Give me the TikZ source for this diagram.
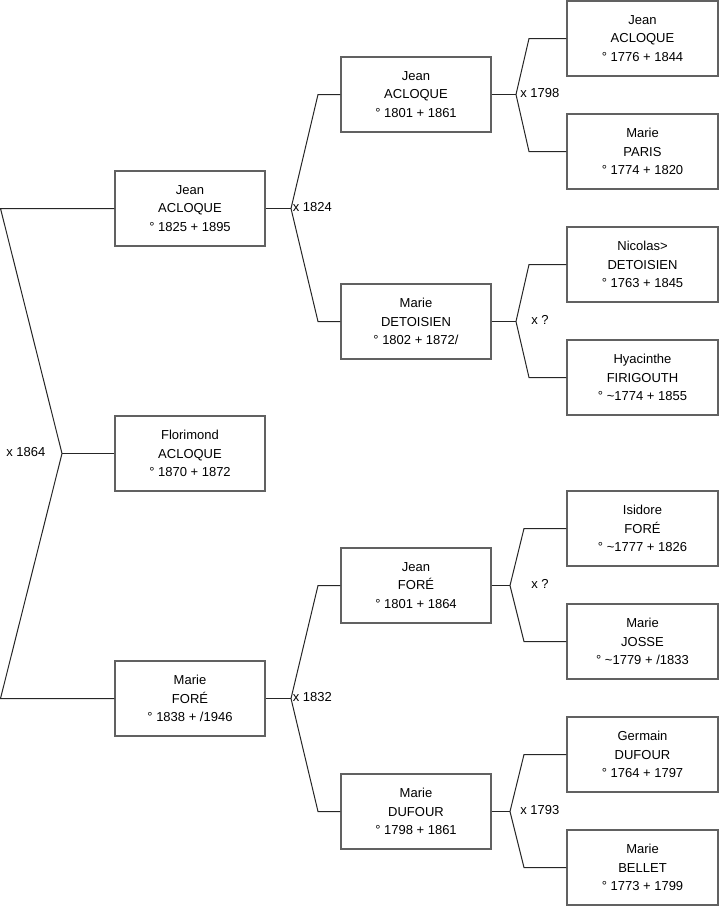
\documentclass[tikz,border=0pt]{standalone}
\usepackage{fontspec}
\setmainfont{Liberation Sans}
\begin{document}
\begin{tikzpicture}[x=0.75pt,y=-0.75pt,
  person/.style={draw=black!62,line width=0.8pt,fill=white,minimum width=112.5pt,minimum height=56.25pt,inner sep=0pt,align=center,font=\fontsize{9.75}{13.9}\selectfont},
  person3/.style={person,minimum width=113.25pt},
  conn/.style={draw=black!85,line width=0.75pt},
  lbl/.style={anchor=west,inner sep=0pt,font=\fontsize{9.75}{12}\selectfont}]
\useasboundingbox (0,0) rectangle (719,908);
% level 1
\node[person] (a1) at (190,208.5) {Jean\\ACLOQUE\\° 1825 + 1895};
\node[person] (a2) at (190,453.5) {Florimond\\ACLOQUE\\° 1870 + 1872};
\node[person] (a3) at (190,698.5) {Marie\\FORÉ\\° 1838 + /1946};
% level 2
\node[person] (b1) at (416,94.5) {Jean\\ACLOQUE\\° 1801 + 1861};
\node[person] (b2) at (416,321.5) {Marie\\DETOISIEN\\° 1802 + 1872/};
\node[person] (b3) at (416,585.5) {Jean\\FORÉ\\° 1801 + 1864};
\node[person] (b4) at (416,811.5) {Marie\\DUFOUR\\° 1798 + 1861};
% level 3
\node[person3] (c1) at (642.5,38.5) {Jean\\ACLOQUE\\° 1776 + 1844};
\node[person3] (c2) at (642.5,151.5) {Marie\\PARIS\\° 1774 + 1820};
\node[person3] (c3) at (642.5,264.5) {Nicolas>\\DETOISIEN\\° 1763 + 1845};
\node[person3] (c4) at (642.5,377.5) {Hyacinthe\\FIRIGOUTH\\° \textasciitilde1774 + 1855};
\node[person3] (c5) at (642.5,528.5) {Isidore\\FORÉ\\° \textasciitilde1777 + 1826};
\node[person3] (c6) at (642.5,641.5) {Marie\\JOSSE\\° \textasciitilde1779 + /1833};
\node[person3] (c7) at (642.5,754.5) {Germain\\DUFOUR\\° 1764 + 1797};
\node[person3] (c8) at (642.5,867.5) {Marie\\BELLET\\° 1773 + 1799};
% fork coordinates
\coordinate (L0) at (62,453.5);
\coordinate (L1) at (0.5,208.5);
\coordinate (L2) at (0.5,698.5);
\coordinate (F1) at (291,208.5);
\coordinate (F1u) at (318,94.5);
\coordinate (F1d) at (318,321.5);
\coordinate (F2) at (291,698.5);
\coordinate (F2u) at (318,585.5);
\coordinate (F2d) at (318,811.5);
\coordinate (G1) at (516,94.5);
\coordinate (G1u) at (529,38.5);
\coordinate (G1d) at (529,151.5);
\coordinate (G2) at (516,321.5);
\coordinate (G2u) at (529,264.5);
\coordinate (G2d) at (529,377.5);
\coordinate (G3) at (510,585.5);
\coordinate (G3u) at (524,528.5);
\coordinate (G3d) at (524,641.5);
\coordinate (G4) at (510,811.5);
\coordinate (G4u) at (524,754.5);
\coordinate (G4d) at (524,867.5);
% connectors
\draw[conn] (a1.west) -- (L1) -- (L0) -- (L2) -- (a3.west);
\draw[conn] (L0) -- (a2.west);
\draw[conn] (a1.east) -- (F1);
\draw[conn] (b1.west) -- (F1u) -- (F1) -- (F1d) -- (b2.west);
\draw[conn] (a3.east) -- (F2);
\draw[conn] (b3.west) -- (F2u) -- (F2) -- (F2d) -- (b4.west);
\draw[conn] (b1.east) -- (G1);
\draw[conn] (c1.west) -- (G1u) -- (G1) -- (G1d) -- (c2.west);
\draw[conn] (b2.east) -- (G2);
\draw[conn] (c3.west) -- (G2u) -- (G2) -- (G2d) -- (c4.west);
\draw[conn] (b3.east) -- (G3);
\draw[conn] (c5.west) -- (G3u) -- (G3) -- (G3d) -- (c6.west);
\draw[conn] (b4.east) -- (G4);
\draw[conn] (c7.west) -- (G4u) -- (G4) -- (G4d) -- (c8.west);
% labels
\node[lbl] (m0) at (6,452) {x 1864};
\node[lbl] (m1) at (292.5,207.5) {x 1824};
\node[lbl] (m2) at (292.5,697.5) {x 1832};
\node[lbl] (m3) at (520,93) {x 1798};
\node[lbl] (m4) at (531,320) {x ?};
\node[lbl] (m5) at (531,584) {x ?};
\node[lbl] (m6) at (520,810) {x 1793};
\end{tikzpicture}
\end{document}
